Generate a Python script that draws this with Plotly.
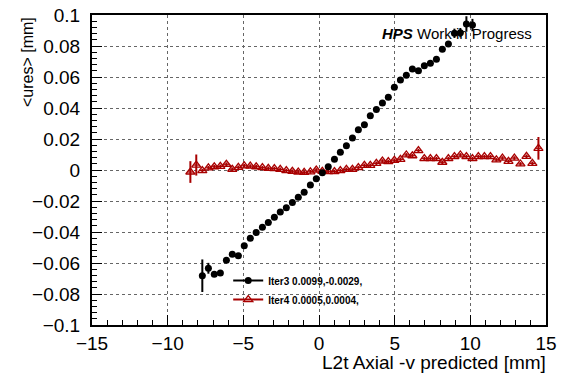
import plotly.graph_objects as go

# ---- data ----
iter3_x = [-7.71, -7.31, -6.92, -6.52, -6.12, -5.73, -5.33, -4.94, -4.54, -4.15,
           -3.74, -3.35, -2.95, -2.56, -2.16, -1.76, -1.37, -0.98, -0.57, -0.18,
           0.22, 0.61, 1.02, 1.41, 1.81, 2.21, 2.60, 3.00, 3.39, 3.79,
           4.19, 4.58, 4.98, 5.38, 5.77, 6.17, 6.57, 6.96, 7.36, 7.76,
           8.15, 8.55, 8.95, 9.34, 9.74, 10.14]
iter3_y = [-0.0682, -0.0634, -0.0673, -0.0665, -0.0583, -0.0544, -0.0553, -0.0488, -0.0441, -0.0404,
           -0.0370, -0.0338, -0.0305, -0.0271, -0.0243, -0.0209, -0.0176, -0.0144, -0.0097, -0.0056,
           -0.0017, 0.0021, 0.0069, 0.0114, 0.0157, 0.0206, 0.0260, 0.0292, 0.0350, 0.0391,
           0.0432, 0.0469, 0.0534, 0.0581, 0.0611, 0.0652, 0.0641, 0.0673, 0.0688, 0.0714,
           0.0779, 0.0813, 0.0882, 0.0886, 0.0942, 0.0935]
iter3_err = [0.0105, 0.0035, 0.001, 0.001, 0.001, 0.001, 0.001, 0.001, 0.001, 0.001,
             0.001, 0.001, 0.001, 0.001, 0.001, 0.001, 0.001, 0.001, 0.001, 0.001,
             0.001, 0.001, 0.001, 0.001, 0.001, 0.001, 0.001, 0.001, 0.001, 0.001,
             0.001, 0.001, 0.001, 0.001, 0.001, 0.001, 0.001, 0.001, 0.001, 0.001,
             0.0012, 0.0015, 0.003, 0.003, 0.005, 0.004]

iter4_x = [-8.50, -8.11, -7.71, -7.31, -6.92, -6.52, -6.12, -5.73, -5.33, -4.94,
           -4.54, -4.15, -3.74, -3.35, -2.95, -2.56, -2.16, -1.76, -1.37, -0.98,
           -0.57, -0.18, 0.22, 0.61, 1.02, 1.41, 1.81, 2.21, 2.60, 3.00,
           3.39, 3.79, 4.19, 4.58, 4.98, 5.38, 5.77, 6.17, 6.57, 6.96,
           7.36, 7.76, 8.15, 8.55, 8.95, 9.34, 9.74, 10.14, 10.53, 10.93,
           11.33, 11.72, 12.12, 12.52, 12.91, 13.31, 13.71, 14.10, 14.50]
iter4_y = [-0.0013, 0.0032, -0.0004, 0.0014, 0.0021, 0.0023, 0.0037, 0.0005, 0.0017, 0.0027,
           0.0025, 0.0021, 0.0015, 0.0011, 0.0009, 0.0004, -0.0004, -0.0008, -0.0013, -0.0015,
           -0.0012, 0.0000, -0.0008, -0.0011, -0.0010, -0.0004, 0.0004, 0.0005, 0.0015, 0.0030,
           0.0030, 0.0043, 0.0058, 0.0054, 0.0063, 0.0069, 0.0097, 0.0092, 0.0125, 0.0073,
           0.0073, 0.0073, 0.0050, 0.0073, 0.0086, 0.0097, 0.0086, 0.0073, 0.0086, 0.0086,
           0.0086, 0.0065, 0.0077, 0.0056, 0.0077, 0.0039, 0.0088, 0.0043, 0.0140]
iter4_err = [0.007, 0.0068] + [0.0012] * 56 + [0.0073]

bin_half = 0.2

x_ticks = [-15, -10, -5, 0, 5, 10, 15]
x_ticktext = ["\u221215", "\u221210", "\u22125", "0", "5", "10", "15"]
y_ticks = [-0.1, -0.08, -0.06, -0.04, -0.02, 0, 0.02, 0.04, 0.06, 0.08, 0.1]
y_ticktext = ["\u22120.1", "\u22120.08", "\u22120.06", "\u22120.04", "\u22120.02", "0",
              "0.02", "0.04", "0.06", "0.08", "0.1"]

legend_names = ["<b>Iter3 0.0099,-0.0029,</b>", "<b>Iter4 0.0005,0.0004,</b>"]

RED = "#a80000"
FONT = "Liberation Sans, Arial, Helvetica, sans-serif"

fig = go.Figure()

# Iter4 (drawn first, below)
fig.add_trace(go.Scatter(
    x=iter4_x, y=iter4_y, mode="markers", showlegend=False,
    marker=dict(symbol="triangle-up-open", size=8, color=RED, line=dict(width=1.3, color=RED)),
    error_y=dict(type="data", array=iter4_err, color=RED, thickness=2, width=0),
    error_x=dict(type="constant", value=bin_half, color=RED, thickness=1.2, width=0),
))
# Iter3
fig.add_trace(go.Scatter(
    x=iter3_x, y=iter3_y, mode="markers", showlegend=False,
    marker=dict(symbol="circle", size=7, color="black"),
    error_y=dict(type="data", array=iter3_err, color="black", thickness=2, width=0),
    error_x=dict(type="constant", value=bin_half, color="black", thickness=1.2, width=0),
))
# legend entries
fig.add_trace(go.Scatter(
    x=[None], y=[None], mode="lines+markers", name=legend_names[0],
    line=dict(color="black", width=2), marker=dict(symbol="circle", size=7, color="black"),
))
fig.add_trace(go.Scatter(
    x=[None], y=[None], mode="lines+markers", name=legend_names[1],
    line=dict(color=RED, width=2),
    marker=dict(symbol="triangle-up-open", size=8, color=RED, line=dict(width=1.3, color=RED)),
))

axis_common = dict(
    showline=True, linecolor="black", linewidth=2, mirror=True,
    ticks="inside", tickcolor="black", tickwidth=1,
    showgrid=True, gridcolor="#666666", griddash="dot", gridwidth=1,
    zeroline=False, tickfont=dict(family=FONT, size=19, color="black"),
    automargin=False,
)

fig.update_xaxes(
    range=[-15, 15], tickvals=x_ticks, ticktext=x_ticktext, ticklen=10,
    minor=dict(dtick=1, ticklen=5, ticks="inside", tickcolor="black", showgrid=False),
    ticklabelstandoff=0,
    **axis_common,
)
fig.update_yaxes(
    range=[-0.1, 0.1], tickvals=y_ticks, ticktext=y_ticktext, ticklen=10,
    minor=dict(dtick=0.004, ticklen=5, ticks="inside", tickcolor="black", showgrid=False),
    ticklabelstandoff=6,
    **axis_common,
)

fig.update_layout(
    width=562, height=382,
    margin=dict(l=92, r=16, t=15, b=57, autoexpand=False),
    paper_bgcolor="white", plot_bgcolor="white",
    font=dict(family=FONT, color="black"),
    showlegend=True,
    legend=dict(
        x=0.3, y=0.19, xanchor="left", yanchor="top",
        bgcolor="rgba(0,0,0,0)", font=dict(family=FONT, size=10, color="black"),
        tracegroupgap=0, itemwidth=30,
    ),
    annotations=[
        dict(text="L2t Axial -v predicted [mm]", xref="paper", yref="paper",
             x=1.005, y=0, xanchor="right", yanchor="top", yshift=-25,
             showarrow=False, font=dict(family=FONT, size=19, color="black")),
        dict(text="&lt;ures&gt; [mm]",
             xref="paper", yref="paper", x=0, y=1, xanchor="center", yanchor="top",
             xshift=-65, textangle=-90,
             showarrow=False, font=dict(family=FONT, size=16, color="black")),
        dict(text="<b><i>HPS</i></b> Work in Progress", xref="paper", yref="paper",
             x=(534 - 92) / 454, y=1, xanchor="right", yanchor="middle", yshift=-18,
             showarrow=False, font=dict(family=FONT, size=15, color="black")),
    ],
)

fig.write_html("out.html")
